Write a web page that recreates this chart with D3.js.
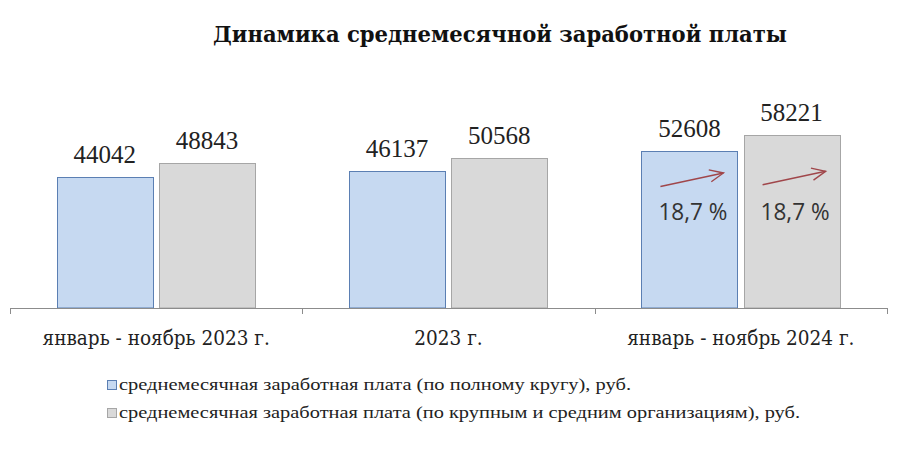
<!DOCTYPE html>
<html><head><meta charset="utf-8">
<script src="https://cdn.jsdelivr.net/npm/d3@7"></script>
<style>body{margin:0;background:#fff}svg{display:block}</style>
</head><body>
<svg id="c" width="900" height="454"></svg>
<script>
const categories = ["январь - ноябрь 2023 г.", "2023 г.", "январь - ноябрь 2024 г."];
const seriesNames = [
  "среднемесячная заработная плата (по полному кругу), руб.",
  "среднемесячная заработная плата (по крупным и средним организациям), руб."
];
const fullCircle = [44042, 46137, 52608];
const largeMedium = [48843, 50568, 58221];
const growthLabels = [null, null, "18,7 %"];
const growthLabels2 = [null, null, "18,7 %"];
const title = "Динамика среднемесячной заработной платы";

const svg = d3.select("#c");
const fills = ["#c6d9f1", "#d9d9d9"];
const strokes = ["#5b7fb3", "#a6a6a6"];

const x = d3.scaleBand().domain(categories).range([10, 887]).padding(0);
const bw = x.bandwidth();
const xs = d3.scaleBand().domain([0, 1]).range([bw * 0.16, bw * 0.16 + bw * 0.678]).paddingInner(0.06).paddingOuter(0);
const y = d3.scaleLinear().domain([0, 70000]).range([308, 308 - 208.3]);

const data = [];
categories.forEach((c, i) => {
  data.push({c, s: 0, v: fullCircle[i], g: growthLabels[i]});
  data.push({c, s: 1, v: largeMedium[i], g: growthLabels2[i]});
});

// title
svg.append("text").attr("x", 500).attr("y", 42).attr("text-anchor", "middle")
  .attr("font-family", "'DejaVu Serif Condensed', 'DejaVu Serif'").attr("font-stretch", "condensed")
  .attr("font-weight", "bold").attr("font-size", 23)
  .attr("textLength", 574).attr("lengthAdjust", "spacingAndGlyphs")
  .attr("fill", "#111").text(title);

// bars
svg.append("g").selectAll("rect").data(data).join("rect")
  .attr("x", d => Math.round(x(d.c) + xs(d.s)) + 0.5)
  .attr("y", d => Math.round(y(d.v)) + 0.5)
  .attr("width", Math.round(xs.bandwidth()))
  .attr("height", d => y(0) - Math.round(y(d.v)) - 0.5)
  .attr("fill", d => fills[d.s]).attr("stroke", d => strokes[d.s]).attr("stroke-width", 1);

// value labels
svg.append("g").selectAll("text").data(data).join("text")
  .attr("x", d => x(d.c) + xs(d.s) + xs.bandwidth() / 2)
  .attr("y", d => y(d.v) - 14)
  .attr("text-anchor", "middle")
  .attr("font-family", "Liberation Serif").attr("font-size", 25).attr("fill", "#222")
  .text(d => d.v);

// axis
const axis = d3.axisBottom(x).tickSize(0).tickFormat("");
const ag = svg.append("g").attr("transform", "translate(0,308)").call(axis);
ag.select(".domain").attr("stroke", "#8c8c8c").attr("d", "M10.5,0.5H887.5");
const dividers = [10, ...categories.map(c => x(c) + bw)];
svg.append("g").selectAll("line").data(dividers).join("line")
  .attr("x1", d => Math.round(d) + 0.5).attr("x2", d => Math.round(d) + 0.5)
  .attr("y1", 308).attr("y2", 314).attr("stroke", "#8c8c8c");
svg.append("g").selectAll("text").data(categories).join("text")
  .attr("x", d => x(d) + bw / 2).attr("y", 345).attr("text-anchor", "middle")
  .attr("font-family", "'DejaVu Serif Condensed', 'DejaVu Serif'").attr("font-stretch", "condensed")
  .attr("font-size", 20.5).attr("fill", "#222")
  .text(d => d);

// growth annotations
const ag2 = svg.append("g");
data.filter(d => d.g).forEach(d => {
  const bx = x(d.c) + xs(d.s);
  const x1 = bx + 19, y1 = y(d.v) + (d.s === 0 ? 35 : 50);
  const x2 = bx + 82, y2 = y1 - 13.5;
  ag2.append("line").attr("x1", x1).attr("y1", y1).attr("x2", x2).attr("y2", y2)
    .attr("stroke", "#a0464a").attr("stroke-width", 1.4);
  const ang = Math.atan2(y2 - y1, x2 - x1);
  const L = 15, sp = 0.42;
  const p = [[x2 - L * Math.cos(ang - sp), y2 - L * Math.sin(ang - sp)], [x2, y2], [x2 - L * Math.cos(ang + sp), y2 - L * Math.sin(ang + sp)]];
  ag2.append("path").attr("d", d3.line()(p)).attr("fill", "none")
    .attr("stroke", "#a0464a").attr("stroke-width", 1.4);
  ag2.append("text").attr("x", bx + 17).attr("y", 220)
    .attr("font-family", "'Open Sans'").attr("font-weight", 400).attr("font-size", 23.5)
    .attr("textLength", 69).attr("lengthAdjust", "spacingAndGlyphs")
    .attr("fill", "#333").text(d.g);
});

// legend
const lg = svg.append("g");
seriesNames.forEach((n, i) => {
  const yy = 385 + i * 28;
  lg.append("rect").attr("x", 107.5).attr("y", yy - 4.5).attr("width", 9).attr("height", 9)
    .attr("fill", fills[i]).attr("stroke", strokes[i]);
  lg.append("text").attr("x", 119).attr("y", yy + 5)
    .attr("font-family", "Liberation Serif").attr("font-size", 16).attr("fill", "#222")
    .attr("textLength", i === 0 ? 512 : 681).attr("lengthAdjust", "spacingAndGlyphs")
    .text(n);
});
</script>
</body></html>
